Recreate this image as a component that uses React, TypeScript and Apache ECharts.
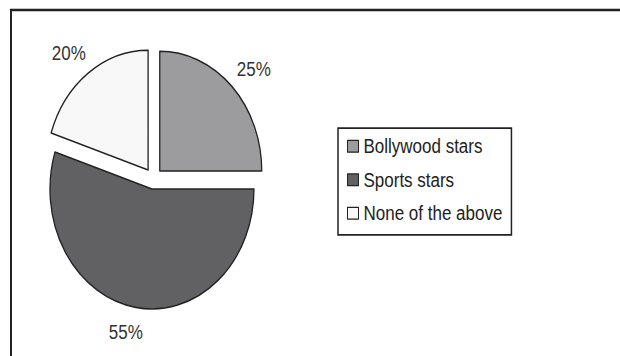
import React, { useEffect, useRef } from "react";
import * as echarts from "echarts";

// Data
const categories = ["Bollywood stars", "Sports stars", "None of the above"];
const shares = [25, 55, 20];
const sliceColors = ["#9c9c9e", "#616164", "#f8f8f8"];

const W = 620;
const H = 356;
const CH = 303; // chart drawn at this height, then stretched to H like the reference
const SY = H / CH;
const FONT = "'Liberation Sans', Arial, Helvetica, sans-serif";

export default function App() {
  const ref = useRef<HTMLDivElement>(null);

  useEffect(() => {
    document.body.style.margin = "0";
    const chart = echarts.init(ref.current!, null, { renderer: "svg", width: W, height: CH });
    chart.setOption({
      animation: false,
      backgroundColor: "#ffffff",
      graphic: [
        {
          type: "rect",
          silent: true,
          shape: { x: 11, y: 8.5, width: 700, height: 400 },
          style: { fill: "none", stroke: "#222", lineWidth: 2 },
        },
      ],
      legend: {
        data: categories,
        orient: "vertical",
        left: 338,
        top: 109,
        padding: [7, 9, 10, 9],
        itemGap: 11.5,
        itemWidth: 11,
        itemHeight: 10,
        icon: "rect",
        borderColor: "#222",
        borderWidth: 1.5,
        itemStyle: { borderColor: "#222", borderWidth: 1 },
        textStyle: { fontSize: 17, lineHeight: 17, color: "#222", fontFamily: FONT },
        selectedMode: false,
      },
      series: [
        {
          type: "pie",
          center: [153.4, 152],
          radius: 102,
          startAngle: 90,
          clockwise: true,
          selectedMode: "multiple",
          selectedOffset: 9,
          itemStyle: { borderColor: "#222", borderWidth: 1.3 },
          label: {
            show: true,
            position: "outside",
            formatter: "{c}%",
            fontSize: 17,
            color: "#333",
            fontFamily: FONT,
            distanceToLabelLine: 0,
          },
          labelLine: { show: false, length: 21, length2: -10 },
          emphasis: { disabled: true },
          select: {
            itemStyle: { borderColor: "#222", borderWidth: 1.3 },
            label: { color: "#333" },
          },
          data: categories.map((name, i) => ({
            name,
            value: shares[i],
            selected: true,
            itemStyle: { color: sliceColors[i] },
          })),
        },
      ],
    });
    return () => chart.dispose();
  }, []);

  return (
    <div
      ref={ref}
      style={{
        position: "fixed",
        left: 0,
        top: 0,
        width: W,
        height: CH,
        transform: `scaleY(${SY})`,
        transformOrigin: "0 0",
      }}
    />
  );
}
